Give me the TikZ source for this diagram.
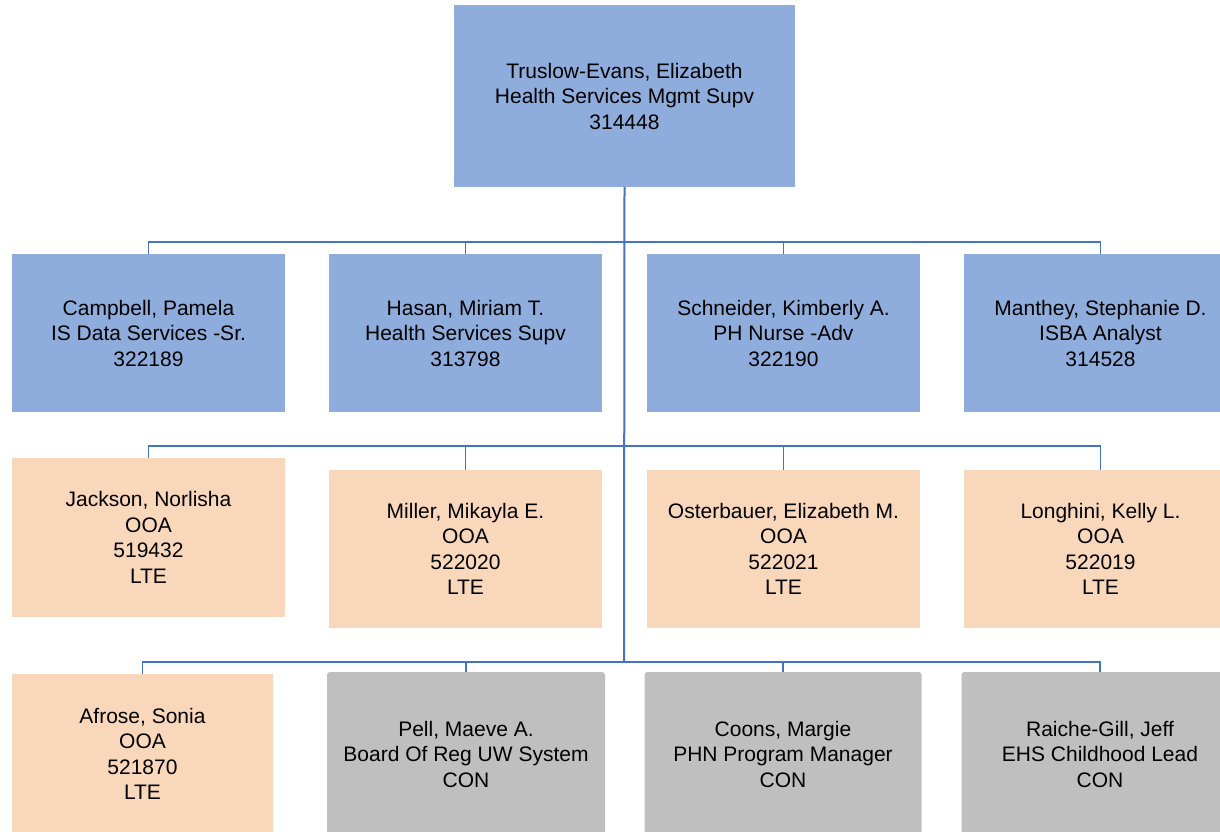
\documentclass[tikz,border=0pt]{standalone}
\usepackage{fontspec}
\setmainfont{Liberation Sans}
\definecolor{bluebox}{RGB}{142,173,220}
\definecolor{peachbox}{RGB}{249,215,187}
\definecolor{graybox}{RGB}{191,191,191}
\definecolor{linecol}{RGB}{68,114,196}
\begin{document}
\begin{tikzpicture}[x=1pt,y=-1pt,
  box/.style={draw=none,minimum width=273pt,align=center,inner sep=0pt,
    font=\fontsize{21}{25.5}\selectfont},
  mgr/.style={box,fill=bluebox},
  lte/.style={box,fill=peachbox},
  con/.style={box,fill=graybox,rounded corners=3pt},
  trunk/.style={draw=linecol,line width=2pt},
  branch/.style={draw=linecol,line width=1.4pt}]
\useasboundingbox (0,0) rectangle (1220,832);
% top
\node[mgr,minimum width=341pt,minimum height=182pt] (top) at (624.5,96) {Truslow-Evans, Elizabeth\\Health Services Mgmt Supv\\314448};
% row 1
\node[mgr,minimum height=158pt] (a1) at (148.5,333) {Campbell, Pamela\\IS Data Services -Sr.\\322189};
\node[mgr,minimum height=158pt] (a2) at (465.5,333) {Hasan, Miriam T.\\Health Services Supv\\313798};
\node[mgr,minimum height=158pt] (a3) at (783.5,333) {Schneider, Kimberly A.\\PH Nurse -Adv\\322190};
\node[mgr,minimum height=158pt] (a4) at (1100.5,333) {Manthey, Stephanie D.\\ISBA Analyst\\314528};
% row 2
\node[lte,minimum height=159pt] (b1) at (148.5,537.5) {Jackson, Norlisha\\OOA\\519432\\LTE};
\node[lte,minimum height=158pt] (b2) at (465.5,549) {Miller, Mikayla E.\\OOA\\522020\\LTE};
\node[lte,minimum height=158pt] (b3) at (783.5,549) {Osterbauer, Elizabeth M.\\OOA\\522021\\LTE};
\node[lte,minimum height=158pt] (b4) at (1100.5,549) {Longhini, Kelly L.\\OOA\\522019\\LTE};
% row 3
\node[lte,minimum width=261pt,minimum height=160pt] (c1) at (142.5,754) {Afrose, Sonia\\OOA\\521870\\LTE};
\node[con,minimum width=278pt,minimum height=164pt] (c2) at (466,754) {Pell, Maeve A.\\Board Of Reg UW System\\CON};
\node[con,minimum width=277pt,minimum height=164pt] (c3) at (783,754) {Coons, Margie\\PHN Program Manager\\CON};
\node[con,minimum width=277pt,minimum height=164pt] (c4) at (1100,754) {Raiche-Gill, Jeff\\EHS Childhood Lead\\CON};
% buses
\coordinate (bus1) at (624,242);
\coordinate (bus2) at (624,446);
\coordinate (bus3) at (624,662);
\foreach \n in {a1,a2,a3,a4} \draw[branch] (bus1) -| (\n.north);
\foreach \n in {b1,b2,b3,b4} \draw[branch] (bus2) -| (\n.north);
\foreach \n in {c1,c2,c3,c4} \draw[branch] (bus3) -| (\n.north);
\draw[trunk] (top.south) -- (bus3);
\end{tikzpicture}
\end{document}
